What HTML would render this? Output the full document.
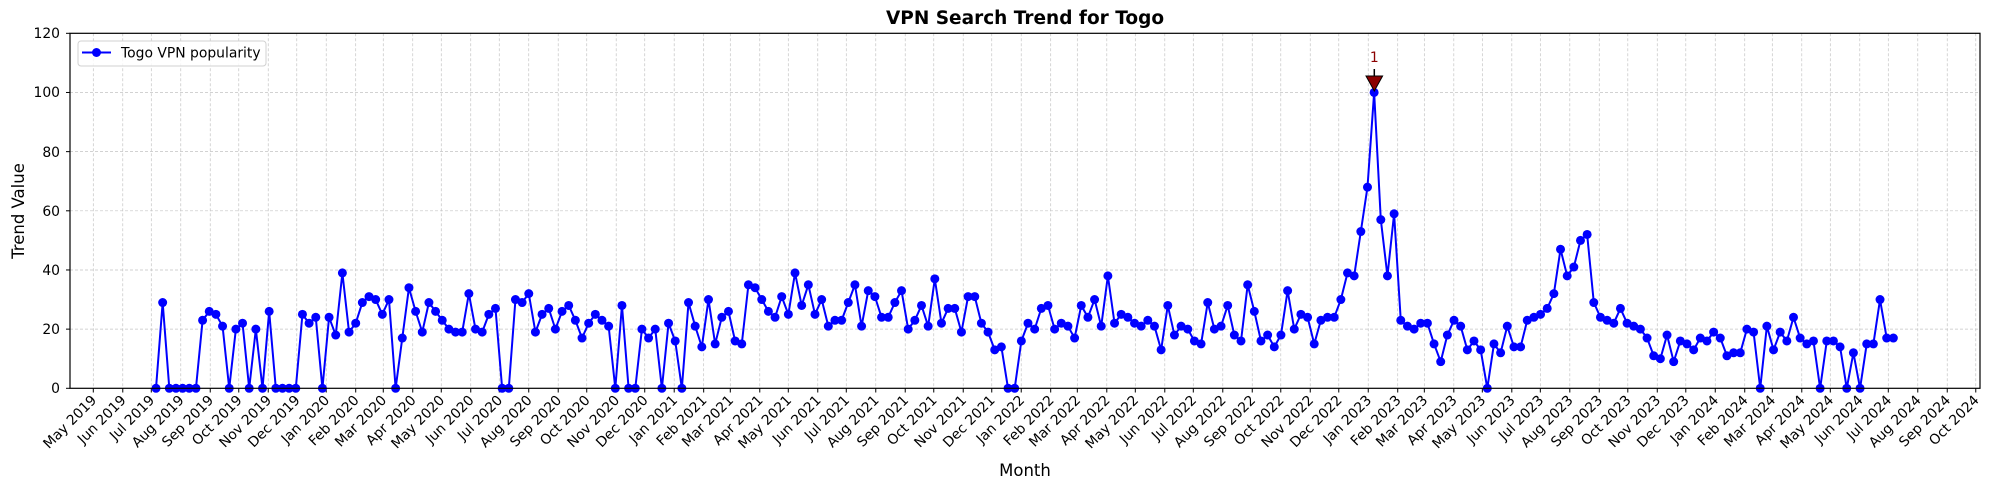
<!DOCTYPE html>
<html><head><meta charset="utf-8"><style>
html,body{margin:0;padding:0;background:#fff;}
svg{display:block;font-family:"DejaVu Sans","Liberation Sans",sans-serif;}
</style></head><body>
<svg id="s" width="1990" height="490" viewBox="0 0 1990 490" xmlns="http://www.w3.org/2000/svg">
<rect width="1990" height="490" fill="#fff"/>
<g id="grid" stroke="#c4c4c4" stroke-width="0.7" stroke-dasharray="3,2" fill="none"></g>
<g id="ticks" stroke="#000" stroke-width="1"></g>
<text x="1025" y="24" text-anchor="middle" font-size="18.5" font-weight="bold">VPN Search Trend for Togo</text>
<text x="1025" y="476" text-anchor="middle" font-size="16.5">Month</text>
<text transform="translate(24,211) rotate(-90)" text-anchor="middle" font-size="16.5">Trend Value</text>
<g font-size="13.9" text-anchor="end">
<text x="60" y="393">0</text><text x="60" y="334">20</text><text x="60" y="275">40</text><text x="60" y="216">60</text><text x="60" y="157">80</text><text x="60" y="97">100</text><text x="60" y="38">120</text>
</g>
<g id="xl" font-size="13.9" text-anchor="end">
<text data-k="0">May 2019</text><text data-k="1">Jun 2019</text><text data-k="2">Jul 2019</text><text data-k="3">Aug 2019</text><text data-k="4">Sep 2019</text><text data-k="5">Oct 2019</text><text data-k="6">Nov 2019</text><text data-k="7">Dec 2019</text>
<text data-k="8">Jan 2020</text><text data-k="9">Feb 2020</text><text data-k="10">Mar 2020</text><text data-k="11">Apr 2020</text><text data-k="12">May 2020</text><text data-k="13">Jun 2020</text><text data-k="14">Jul 2020</text><text data-k="15">Aug 2020</text><text data-k="16">Sep 2020</text><text data-k="17">Oct 2020</text><text data-k="18">Nov 2020</text><text data-k="19">Dec 2020</text>
<text data-k="20">Jan 2021</text><text data-k="21">Feb 2021</text><text data-k="22">Mar 2021</text><text data-k="23">Apr 2021</text><text data-k="24">May 2021</text><text data-k="25">Jun 2021</text><text data-k="26">Jul 2021</text><text data-k="27">Aug 2021</text><text data-k="28">Sep 2021</text><text data-k="29">Oct 2021</text><text data-k="30">Nov 2021</text><text data-k="31">Dec 2021</text>
<text data-k="32">Jan 2022</text><text data-k="33">Feb 2022</text><text data-k="34">Mar 2022</text><text data-k="35">Apr 2022</text><text data-k="36">May 2022</text><text data-k="37">Jun 2022</text><text data-k="38">Jul 2022</text><text data-k="39">Aug 2022</text><text data-k="40">Sep 2022</text><text data-k="41">Oct 2022</text><text data-k="42">Nov 2022</text><text data-k="43">Dec 2022</text>
<text data-k="44">Jan 2023</text><text data-k="45">Feb 2023</text><text data-k="46">Mar 2023</text><text data-k="47">Apr 2023</text><text data-k="48">May 2023</text><text data-k="49">Jun 2023</text><text data-k="50">Jul 2023</text><text data-k="51">Aug 2023</text><text data-k="52">Sep 2023</text><text data-k="53">Oct 2023</text><text data-k="54">Nov 2023</text><text data-k="55">Dec 2023</text>
<text data-k="56">Jan 2024</text><text data-k="57">Feb 2024</text><text data-k="58">Mar 2024</text><text data-k="59">Apr 2024</text><text data-k="60">May 2024</text><text data-k="61">Jun 2024</text><text data-k="62">Jul 2024</text><text data-k="63">Aug 2024</text><text data-k="64">Sep 2024</text><text data-k="65">Oct 2024</text>
</g>
<g id="data"></g>
<line x1="1374.3" y1="69" x2="1374.3" y2="78" stroke="#000" stroke-width="1.5"/>
<polygon points="1366,76 1382.6,76 1374.3,91" fill="#8b0000" stroke="#000" stroke-width="1"/>
<text x="1374.3" y="62" text-anchor="middle" font-size="13.9" fill="#8b0000">1</text>
<rect x="70" y="33.3" width="1910" height="355" fill="none" stroke="#000" stroke-width="1.2"/>
<rect x="78" y="41" width="188" height="25" rx="3" fill="#fff" fill-opacity="0.8" stroke="#d0d0d0" stroke-width="1"/>
<line x1="82" y1="52.5" x2="111" y2="52.5" stroke="#0000ff" stroke-width="2"/>
<circle cx="96.5" cy="52.5" r="4.5" fill="#0000ff"/>
<text x="121" y="57.5" font-size="13.9">Togo VPN popularity</text>
</svg>
<script>
(function(){
var NS="http://www.w3.org/2000/svg";
var v=[0,29,0,0,0,0,0,23,26,25,21,0,20,22,0,20,0,26,0,0,0,0,25,22,24,0,24,18,39,19,22,29,
31,30,25,30,0,17,34,26,19,29,26,23,20,19,19,32,20,19,25,27,0,0,30,29,32,19,25,27,20,26,28,23,17,
22,25,23,21,0,28,0,0,20,17,20,0,22,16,0,29,21,14,30,15,24,26,16,15,35,34,30,26,24,31,25,39,28,
35,25,30,21,23,23,29,35,21,33,31,24,24,29,33,20,23,28,21,37,22,27,27,19,31,31,22,19,13,14,0,0,16,
22,20,27,28,20,22,21,17,28,24,30,21,38,22,25,24,22,21,23,21,13,28,18,21,20,16,15,29,20,21,28,18,16,
35,26,16,18,14,18,33,20,25,24,15,23,24,24,30,39,38,53,68,100,57,38,59,23,21,20,22,22,15,9,18,23,21,
13,16,13,0,15,12,21,14,14,23,24,25,27,32,47,38,41,50,52,29,24,23,22,27,22,21,20,17,11,10,18,9,16,
15,13,17,16,19,17,11,12,12,20,19,0,21,13,19,16,24,17,15,16,0,16,16,14,0,12,0,15,15,30,17,17];
function Y(val){return 388.3-val*2.9583;}
var g=document.getElementById("grid"),t=document.getElementById("ticks");
function el(n,a,p){var e=document.createElementNS(NS,n);for(var k in a)e.setAttribute(k,a[k]);p.appendChild(e);return e;}
for(var i=1;i<=6;i++){var y=Y(i*20);el("line",{x1:70,x2:1980,y1:y,y2:y},g);}
for(i=0;i<=6;i++){var y2=Y(i*20);el("line",{x1:66,x2:70,y1:y2,y2:y2},t);}
var lens=[];var yr=2019,m=5;
for(i=0;i<66;i++){var d=[31,(yr%4==0?29:28),31,30,31,30,31,31,30,31,30,31][m-1];lens.push(d);m++;if(m>12){m=1;yr++;}}
var xs=[],day=0;
for(i=0;i<66;i++){xs.push(93.3+day*0.95074);day+=lens[i];}
for(i=0;i<66;i++){var x=xs[i];el("line",{x1:x,x2:x,y1:33.3,y2:388.3},g);el("line",{x1:x,x2:x,y1:388.3,y2:392.5},t);}
var tx=document.querySelectorAll("#xl text");
for(i=0;i<tx.length;i++){var k=+tx[i].getAttribute("data-k");tx[i].setAttribute("transform","translate("+(xs[k]+4)+",401) rotate(-45)");tx[i].removeAttribute("data-k");}
var dg=document.getElementById("data"),pts=[];
for(i=0;i<v.length;i++){pts.push((156+i*6.6565).toFixed(2)+","+Y(v[i]).toFixed(2));}
el("polyline",{points:pts.join(" "),fill:"none",stroke:"#0000ff","stroke-width":2,"stroke-linejoin":"round"},dg);
for(i=0;i<v.length;i++){el("circle",{cx:(156+i*6.6565).toFixed(2),cy:Y(v[i]).toFixed(2),r:4.5,fill:"#0000ff"},dg);}
})();
</script>
</body></html>
